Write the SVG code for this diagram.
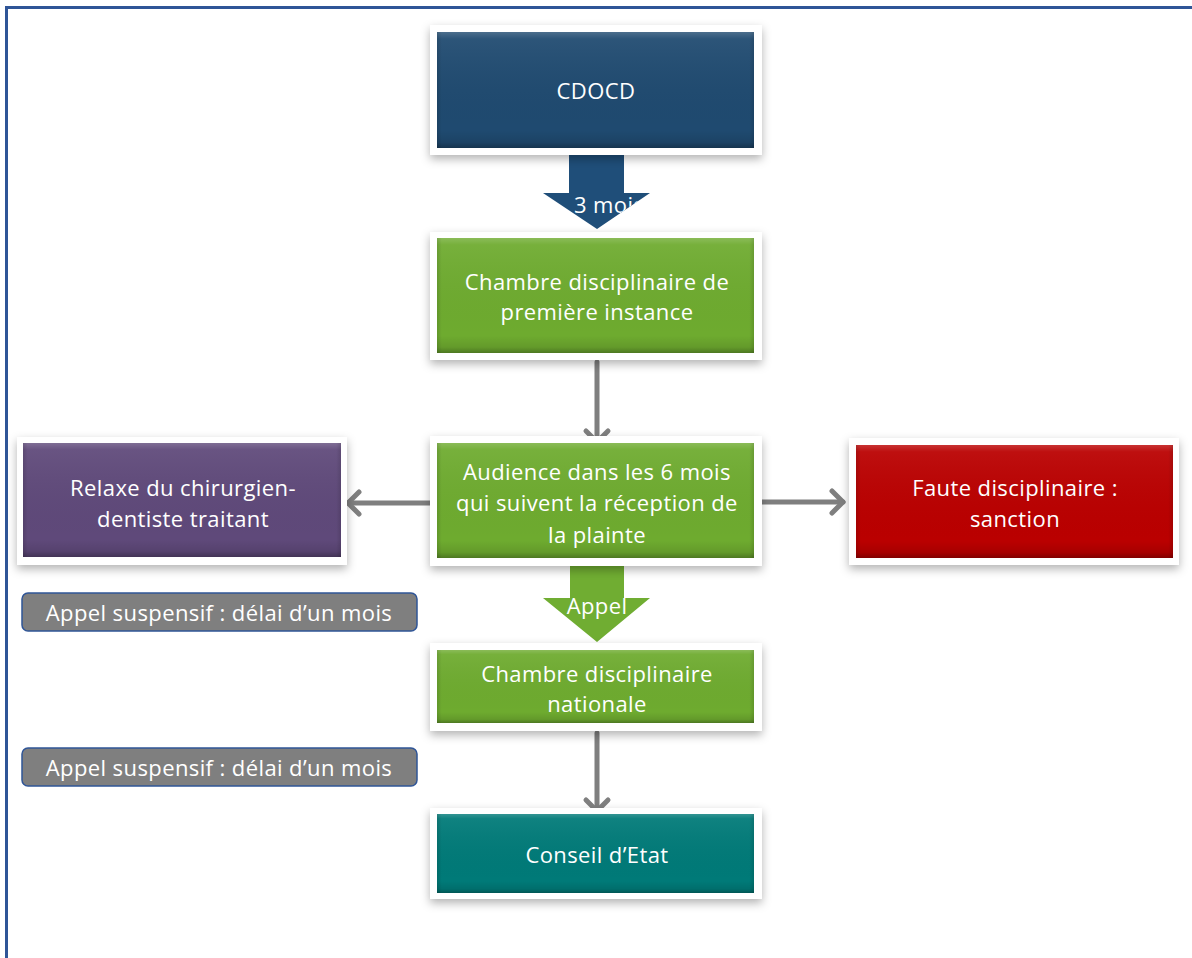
<svg xmlns="http://www.w3.org/2000/svg" width="1192" height="958" viewBox="0 0 1192 958">
<style>
.frame{fill:#ffffff;filter:url(#sh)}
.t{font-family:"Open Sans","Liberation Sans",sans-serif;font-size:22px;letter-spacing:0.4px;fill:#ffffff;text-anchor:middle}
.conn{stroke:#7f7f7f;stroke-width:5;fill:none;stroke-linecap:round;stroke-linejoin:round}
.pill{fill:#7f7f7f;stroke:#2f5597;stroke-width:1.5}
</style>
<defs>
<filter id="sh" x="-10%" y="-10%" width="120%" height="130%">
<feDropShadow dx="0" dy="4" stdDeviation="5" flood-color="#000" flood-opacity="0.3"/>
</filter>
<linearGradient id="bev" x1="0" y1="0" x2="0" y2="1">
<stop offset="0" stop-color="#fff" stop-opacity="0.2"/>
<stop offset="0.06" stop-color="#fff" stop-opacity="0.06"/>
<stop offset="0.85" stop-color="#000" stop-opacity="0"/>
<stop offset="0.95" stop-color="#000" stop-opacity="0.1"/>
<stop offset="1" stop-color="#000" stop-opacity="0.3"/>
</linearGradient>
<linearGradient id="bevh" x1="0" y1="0" x2="1" y2="0">
<stop offset="0" stop-color="#000" stop-opacity="0.12"/>
<stop offset="0.015" stop-color="#000" stop-opacity="0"/>
<stop offset="0.985" stop-color="#000" stop-opacity="0"/>
<stop offset="1" stop-color="#000" stop-opacity="0.12"/>
</linearGradient>
<clipPath id="a1"><polygon points="569,155 624,155 624,193 650,193 597,229 543,193 569,193"/></clipPath>
<clipPath id="a2"><polygon points="570,566 624,566 624,598 650,598 597,642 543,598 570,598"/></clipPath>
</defs>

<rect x="0" y="0" width="1192" height="958" fill="#ffffff"/>
<g id="border" fill="#2f5597">
<rect x="5" y="6" width="1187" height="3"/>
<rect x="5" y="6" width="3" height="952"/>
</g>

<g id="connectors">
<polygon points="569,155 624,155 624,193 650,193 597,229 543,193 569,193" fill="#1f4e79"/>
<text class="t" x="574" y="213" clip-path="url(#a1)" style="text-anchor:start">3 mois</text>
<polygon points="570,566 624,566 624,598 650,598 597,642 543,598 570,598" fill="#70ad32"/>
<text class="t" x="597" y="614" clip-path="url(#a2)">Appel</text>
<line class="conn" x1="597" y1="362" x2="597" y2="442"/>
<polyline class="conn" points="586,431 597,442 608,431"/>
<line class="conn" x1="597" y1="733" x2="597" y2="811"/>
<polyline class="conn" points="586,800 597,811 608,800"/>
<line class="conn" x1="430" y1="503" x2="348" y2="503"/>
<polyline class="conn" points="359,492 348,503 359,514"/>
<line class="conn" x1="762" y1="502" x2="843" y2="502"/>
<polyline class="conn" points="832,491 843,502 832,513"/>
</g>

<g id="cdocd">
<rect class="frame" x="430" y="25" width="332" height="130"/>
<rect x="437" y="32" width="317" height="116" fill="#1f4a70"/>
<rect x="437" y="32" width="317" height="116" fill="url(#bev)"/>
<rect x="437" y="32" width="317" height="116" fill="url(#bevh)"/>
<text class="t" x="596" y="99">CDOCD</text>
</g>

<g id="premiere">
<rect class="frame" x="430" y="232" width="332" height="128"/>
<rect x="437" y="238" width="317" height="115" fill="#6eab2f"/>
<rect x="437" y="238" width="317" height="115" fill="url(#bev)"/>
<rect x="437" y="238" width="317" height="115" fill="url(#bevh)"/>
<text class="t" x="597" y="290">Chambre disciplinaire de</text>
<text class="t" x="597" y="320">première instance</text>
</g>

<g id="audience">
<rect class="frame" x="430" y="436" width="332" height="130"/>
<rect x="437" y="443" width="317" height="115" fill="#6eab2f"/>
<rect x="437" y="443" width="317" height="115" fill="url(#bev)"/>
<rect x="437" y="443" width="317" height="115" fill="url(#bevh)"/>
<text class="t" x="597" y="480">Audience dans les 6 mois</text>
<text class="t" x="597" y="511">qui suivent la réception de</text>
<text class="t" x="597" y="543">la plainte</text>
</g>

<g id="relaxe">
<rect class="frame" x="17" y="437" width="330" height="128"/>
<rect x="23" y="443" width="318" height="114" fill="#5f497a"/>
<rect x="23" y="443" width="318" height="114" fill="url(#bev)"/>
<rect x="23" y="443" width="318" height="114" fill="url(#bevh)"/>
<text class="t" x="183" y="496">Relaxe du chirurgien-</text>
<text class="t" x="183" y="527">dentiste traitant</text>
</g>

<g id="faute">
<rect class="frame" x="849" y="438" width="330" height="127"/>
<rect x="856" y="445" width="317" height="113" fill="#ba0000"/>
<rect x="856" y="445" width="317" height="113" fill="url(#bev)"/>
<rect x="856" y="445" width="317" height="113" fill="url(#bevh)"/>
<text class="t" x="1015" y="496">Faute disciplinaire :</text>
<text class="t" x="1015" y="527">sanction</text>
</g>

<g id="appel1">
<rect class="pill" x="22" y="593" width="395" height="38" rx="6"/>
<text class="t" x="219" y="621">Appel suspensif : délai d’un mois</text>
</g>

<g id="nationale">
<rect class="frame" x="430" y="643" width="332" height="88"/>
<rect x="437" y="650" width="317" height="73" fill="#6eab2f"/>
<rect x="437" y="650" width="317" height="73" fill="url(#bev)"/>
<rect x="437" y="650" width="317" height="73" fill="url(#bevh)"/>
<text class="t" x="597" y="682">Chambre disciplinaire</text>
<text class="t" x="597" y="712">nationale</text>
</g>

<g id="appel2">
<rect class="pill" x="22" y="748" width="395" height="38" rx="6"/>
<text class="t" x="219" y="776">Appel suspensif : délai d’un mois</text>
</g>

<g id="conseil">
<rect class="frame" x="430" y="808" width="332" height="91"/>
<rect x="437" y="814" width="317" height="79" fill="#007a78"/>
<rect x="437" y="814" width="317" height="79" fill="url(#bev)"/>
<rect x="437" y="814" width="317" height="79" fill="url(#bevh)"/>
<text class="t" x="597" y="863">Conseil d’Etat</text>
</g>
</svg>
